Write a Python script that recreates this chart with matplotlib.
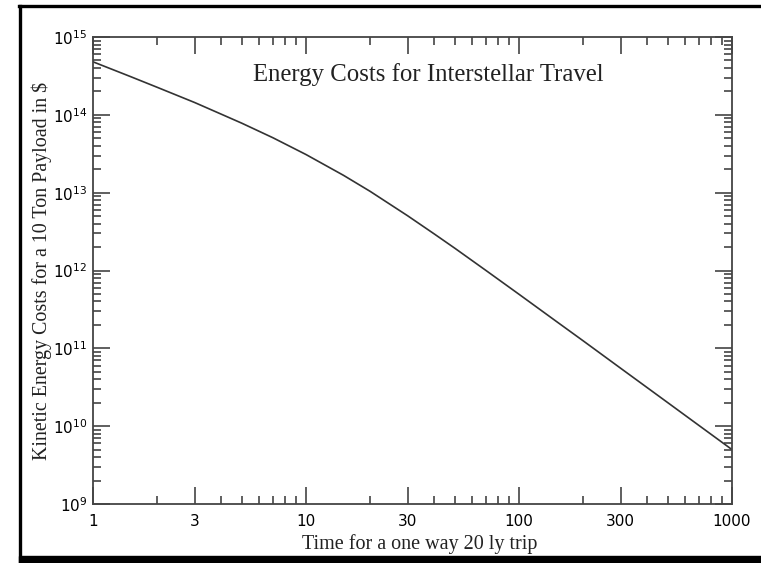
import numpy as np
import matplotlib
matplotlib.use("Agg")
import matplotlib.pyplot as plt
from matplotlib.ticker import FixedLocator, NullFormatter, LogLocator
from matplotlib.lines import Line2D
from matplotlib.patches import Rectangle

# trip time (years) and cost ($)
trip_time = [1, 1.5, 2, 3, 4, 5, 7, 10, 15, 20, 30, 40, 50, 70,
             100, 150, 200, 300, 500, 700, 1000]
cost = [4.8e14, 3.1e14, 2.26e14, 1.44e14, 1.02e14, 7.8e13, 5.07e13, 3.09e13,
        1.67e13, 1.04e13, 5.05e12, 2.95e12, 1.93e12, 1.0e12,
        4.95e11, 2.21e11, 1.25e11, 5.55e10, 2.0e10, 1.02e10, 5.0e9]

x_major = [1, 3, 10, 30, 100, 300, 1000]
x_labels = ["1", "3", "10", "30", "100", "300", "1000"]
x_minor = [2, 4, 5, 6, 7, 8, 9, 20, 40, 50, 60, 70, 80, 90,
           200, 400, 500, 600, 700, 800, 900]
y_exps = [9, 10, 11, 12, 13, 14, 15]

serif = "Liberation Serif"
axcol = "#444444"

fig = plt.figure(figsize=(7.61, 5.63), dpi=100)
ax = fig.add_axes([93/761, 1-504/563, (732-93)/761, (504-37)/563])

ax.plot(trip_time, cost, color="#333333", lw=1.2)
ax.set_xscale("log")
ax.set_yscale("log")
ax.set_xlim(1, 1000)
ax.set_ylim(1e9, 1e15)

ax.xaxis.set_major_locator(FixedLocator(x_major))
ax.xaxis.set_minor_locator(FixedLocator(x_minor))
ax.set_xticklabels(x_labels)
ax.xaxis.set_minor_formatter(NullFormatter())

ax.yaxis.set_major_locator(FixedLocator([10.0**e for e in y_exps]))
ax.yaxis.set_minor_locator(LogLocator(base=10, subs=np.arange(2, 10), numticks=20))
ax.set_yticklabels([r"$\mathregular{10^{%d}}$" % e for e in y_exps])
ax.yaxis.set_minor_formatter(NullFormatter())

ax.tick_params(which="both", direction="in", top=True, right=True,
               color=axcol, width=1.2)
ax.tick_params(which="major", length=12, labelsize=11)
ax.tick_params(which="minor", length=6)
ax.tick_params(axis="x", which="major", pad=7)
ax.tick_params(axis="y", which="major", pad=4)
for s in ax.spines.values():
    s.set_color(axcol)
    s.set_linewidth(1.3)

ax.set_xlabel("Time for a one way 20 ly trip", family=serif, fontsize=14.5,
              color="#222222")
ax.xaxis.set_label_coords(0.512, -0.064)
ax.set_ylabel("Kinetic Energy Costs for a 10 Ton Payload in $", family=serif,
              fontsize=14.4, labelpad=1, color="#222222")
ax.text(0.524, 0.919, "Energy Costs for Interstellar Travel", transform=ax.transAxes,
        family=serif, fontsize=17.8, ha="center", va="center", color="#222222")

# frame around the picture
fig.add_artist(Line2D([19/761, 1], [1-6/563, 1-6/563], color="black", lw=2.4,
                      transform=fig.transFigure))
fig.add_artist(Line2D([20/761, 20/761], [0, 1-6/563], color="black", lw=2.4,
                      transform=fig.transFigure))
fig.add_artist(Rectangle((19/761, 0), 1, 7/563, color="black",
                         transform=fig.transFigure))

fig.savefig("out.png", dpi=100)
